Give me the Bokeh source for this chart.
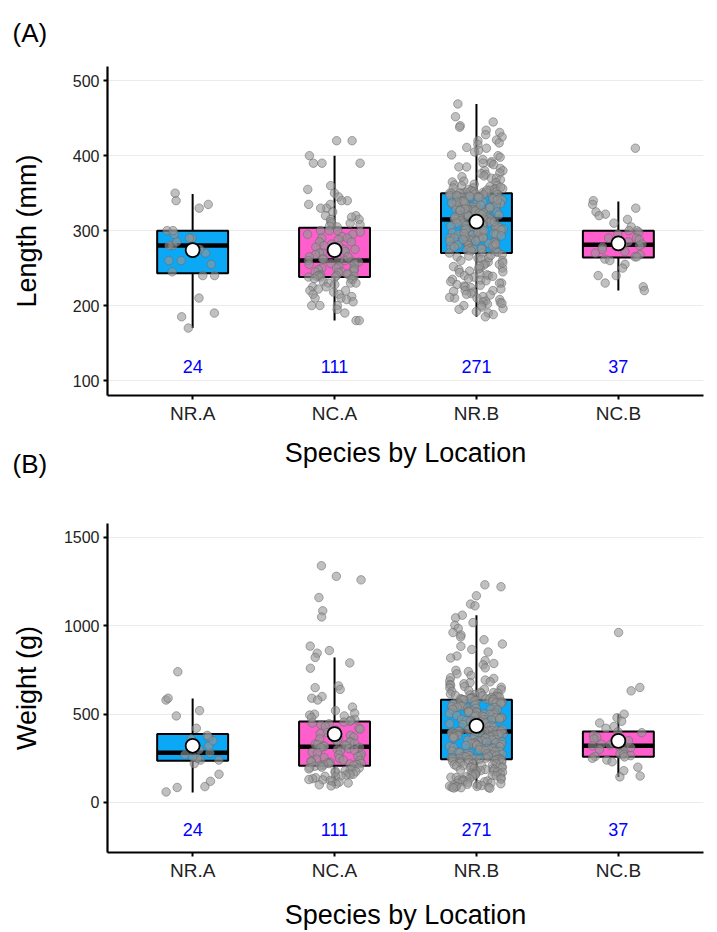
import math

from bokeh.plotting import figure
from bokeh.layouts import column
from bokeh.models import FixedTicker, Range1d, Title
from bokeh.embed import file_html
from bokeh.resources import INLINE
from bokeh.core.properties import value

# ---- categories -------------------------------------------------------------
groups = ["NR.A", "NC.A", "NR.B", "NC.B"]
box_colors = ["#0AA8F5", "#FF5FCC", "#0AA8F5", "#FF5FCC"]

# ---- fish length (mm) by group ---------------------------------------------
length_nr_a = [170, 185, 190, 210, 240, 240, 245, 255, 260, 260, 270, 275,
               280, 280, 285, 290, 290, 295, 300, 300, 330, 335, 340, 350]
length_nc_a = [420, 420, 400, 390, 390, 390, 360, 355, 350, 345, 340, 340,
               335, 335, 330, 330, 325, 320, 320, 318, 315, 315, 312, 310,
               310, 308, 306, 305,
               300, 300, 300, 298, 295, 295, 292, 290, 290, 288, 285, 285,
               282, 280, 280, 278, 275, 275, 272, 270, 270, 268, 265, 265,
               262, 262, 261,
               260, 260, 259, 258, 256, 255, 255, 252, 250, 250, 250, 248,
               248, 246, 245, 245, 244, 242, 242, 241, 240, 240, 240, 239,
               239, 238, 238, 238,
               236, 235, 235, 232, 230, 230, 230, 228, 225, 225, 222, 220,
               220, 218, 215, 215, 212, 210, 210, 208, 205, 200, 200, 200,
               195, 190, 180, 180]
length_nr_b = [469, 452, 445, 440, 438, 434, 431, 428, 425, 421, 420, 417,
               415, 411, 410, 407, 405, 401, 400, 398, 395, 392, 390, 390,
               388, 385, 385, 383, 380, 380, 377, 376, 375, 373, 372, 370,
               370, 368, 366, 365, 364, 362, 361, 360, 360, 359, 357, 357,
               356, 355, 355, 354, 353, 353, 352, 351, 351, 351, 350, 350,
               350, 350, 350, 351, 352, 354, 356, 358,
               349, 348, 348, 347, 346, 345, 345, 344, 343, 342, 341, 340,
               340, 339, 338, 337, 336, 335, 335, 334, 333, 332, 331, 330,
               330, 329, 328, 327, 326, 325, 325, 324, 323, 322, 321, 320,
               320, 319, 318, 317, 316, 316, 315, 315, 315, 347, 343, 338,
               333, 328, 323, 318, 344, 336, 326, 321, 341, 331, 346, 339,
               329, 324, 319, 334, 337, 327, 322,
               314, 313, 312, 311, 310, 310, 309, 308, 307, 306, 305, 305,
               304, 303, 302, 301, 300, 300, 299, 298, 297, 296, 295, 295,
               294, 293, 292, 291, 290, 290, 289, 288, 287, 286, 285, 285,
               284, 283, 282, 281, 280, 280, 279, 278, 277, 276, 275, 275,
               274, 273, 272, 271, 270, 270, 312, 306, 298, 292, 286, 278,
               308, 302, 296, 288, 282, 276, 300, 290,
               268, 266, 265, 263, 262, 260, 260, 258, 256, 255, 254, 252,
               250, 250, 248, 246, 245, 244, 242, 240, 240, 238, 236, 235,
               234, 232, 230, 230, 228, 226, 225, 224, 222, 220, 220, 218,
               216, 215, 214, 212, 210, 210, 208, 206, 205, 204, 202, 200,
               200, 198, 196, 195, 192, 190, 188, 185, 264, 257, 249, 241,
               233, 227, 219, 211, 203, 267, 253, 239]
length_nc_b = [410, 340, 335, 330, 325, 322, 320, 315, 310, 305, 300, 300,
               298, 295, 290, 290, 288, 285, 282, 280, 280, 278, 275, 272,
               270, 268, 265, 265, 262, 260, 255, 250, 240, 240, 230, 225, 220]

# box statistics for length: lower whisker, Q1, median, Q3, upper whisker, mean
length_lower = [170, 180, 185, 220]
length_q1 = [243, 238, 270, 264]
length_median = [280, 260, 315, 281]
length_q3 = [300, 304, 350, 300]
length_upper = [349, 400, 469, 339]
length_mean = [274, 274, 312, 283]

# ---- fish weight (g) by group ----------------------------------------------
weight_nr_a = [60, 85, 90, 120, 160, 220, 240, 240, 250, 260, 270, 280,
               300, 320, 350, 360, 370, 380, 420, 490, 520, 580, 590, 740]
weight_nc_a = [1340, 1280, 1260, 1160, 1085, 1050, 885, 860, 845,
               821, 790, 760, 660, 650, 640, 600, 590, 580, 540, 520, 505,
               500, 495, 490, 480, 470, 465, 460,
               455, 450, 445, 440, 430, 420, 415, 410, 400, 395, 390, 385,
               380, 370, 365, 360, 355, 350, 345, 340, 335, 330, 328, 325,
               322, 320, 318,
               312, 310, 305, 300, 295, 290, 285, 280, 275, 270, 265, 260,
               255, 250, 245, 240, 238, 235, 230, 228, 225, 222, 220, 218,
               215, 212, 210, 209,
               205, 200, 198, 195, 190, 185, 180, 178, 175, 170, 165, 160,
               158, 155, 150, 148, 145, 140, 135, 130, 128, 125, 120, 115,
               110, 105, 100, 94]
weight_nr_b = [1232, 1221, 1170, 1123, 1113,
               1060, 1045, 1018, 1003, 985, 962, 948, 937, 921, 897, 884, 866,
               852, 829, 818, 803, 787, 779, 762, 748, 741, 728, 719, 706,
               702, 693, 688, 683, 679, 672, 668, 663, 657, 652, 648, 641,
               638, 633, 629, 624, 622, 619, 617, 614, 611, 609, 606, 604,
               601, 600, 597, 595, 593, 591, 590, 588, 588, 586, 585, 584,
               584, 583, 582,
               580, 577, 576, 572, 569, 568, 564, 562, 559, 557, 556, 551,
               550, 547, 544, 543, 539, 537, 534, 533, 529, 527, 524, 521,
               520, 516, 514, 511, 509, 507, 504, 502, 499, 498, 494, 492,
               489, 486, 485, 481, 479, 478, 474, 471, 469, 467, 463, 461,
               459, 457, 454, 449, 446, 441, 434, 429, 427, 419, 414, 411,
               408, 406, 405, 404, 403, 403, 402,
               400, 398, 394, 393, 389, 387, 384, 383, 379, 378, 374, 371,
               370, 366, 364, 363, 359, 357, 354, 352, 349, 348, 344, 341,
               339, 338, 334, 333, 329, 326, 324, 322, 318, 316, 313, 311,
               309, 306, 304, 302, 299, 298, 294, 291, 289, 288, 284, 283,
               279, 276, 274, 273, 269, 266, 264, 261, 259, 258, 254, 252,
               251, 249, 248, 247, 246, 246, 245, 245,
               243, 241, 238, 236, 232, 231, 227, 225, 223, 219, 218, 214,
               213, 209, 208, 206, 202, 201, 197, 196, 193, 191, 187, 186,
               183, 180, 178, 176, 173, 171, 167, 166, 163, 161, 158, 156,
               153, 151, 148, 145, 143, 141, 139, 134, 132, 131, 127, 125,
               122, 119, 117, 115, 111, 109, 106, 103, 101, 98, 96, 93,
               91, 90, 88, 86, 85, 84, 82, 81]
weight_nc_b = [962, 651, 632, 500, 480, 460, 450, 430, 420, 400, 395, 380,
               370, 360, 350, 340, 330, 325, 321, 320, 315, 310, 300, 290,
               280, 275, 270, 265, 260, 258, 250, 240, 230, 200, 180, 150, 145]

weight_lower = [57, 94, 81, 145]
weight_q1 = [236, 208, 245, 259]
weight_median = [281, 315, 402, 321]
weight_q3 = [387, 458, 581, 402]
weight_upper = [589, 821, 1060, 500]
weight_mean = [321, 387, 434, 349]

length_values = [length_nr_a, length_nc_a, length_nr_b, length_nc_b]
weight_values = [weight_nr_a, weight_nc_a, weight_nr_b, weight_nc_b]

FONT = "Liberation Sans"
BOX_W = 0.5
JITTER = 0.19


def jitter_offsets(n, seed):
    # deterministic hash-based horizontal spread for the raw observations
    out = []
    for i in range(n):
        h = math.sin((i + 1) * 12.9898 + seed * 78.233) * 43758.5453
        out.append((h - math.floor(h) - 0.5) * 2 * JITTER)
    return out


def make_panel(values, lower, q1, med, q3, upper, mean, y_range, ticks,
               y_label, n_label_y, height, border_top, border_bottom,
               y_label_standoff, x_label_standoff, seed):
    xs = list(range(1, len(groups) + 1))
    p = figure(width=717, height=height, output_backend="svg",
               toolbar_location=None,
               x_range=Range1d(0.4, 4.6), y_range=Range1d(*y_range),
               min_border_left=107, min_border_right=14,
               min_border_top=border_top, min_border_bottom=border_bottom)
    p.outline_line_color = None
    p.background_fill_color = "white"
    p.xgrid.visible = False
    p.ygrid.grid_line_color = "#EBEBEB"
    p.ygrid.grid_line_width = 1

    # axes
    p.xaxis.ticker = FixedTicker(ticks=xs)
    p.xaxis.major_label_overrides = {x: g for x, g in zip(xs, groups)}
    p.yaxis.ticker = FixedTicker(ticks=ticks)
    for ax in (p.xaxis[0], p.yaxis[0]):
        ax.axis_line_color = "black"
        ax.axis_line_width = 2.2
        ax.major_tick_line_color = "black"
        ax.major_tick_line_width = 2
        ax.major_tick_in = 0
        ax.major_tick_out = 4
        ax.minor_tick_line_color = None
        ax.major_label_text_font = FONT
        ax.major_label_text_color = "#222222"
        ax.axis_label_text_font = FONT
        ax.axis_label_text_font_style = "normal"
        ax.axis_label_text_font_size = "27px"
        ax.axis_label_text_color = "black"
    p.xaxis.major_label_text_font_size = "19px"
    p.yaxis.major_label_text_font_size = "16px"
    p.xaxis.major_label_standoff = 3
    p.yaxis.major_label_standoff = 4
    p.xaxis.axis_label = "Species by Location"
    p.xaxis.axis_label_standoff = x_label_standoff
    p.yaxis.axis_label = y_label
    p.yaxis.axis_label_standoff = y_label_standoff

    # whiskers
    p.segment(x0=xs, y0=q3, x1=xs, y1=upper, line_color="black", line_width=2)
    p.segment(x0=xs, y0=q1, x1=xs, y1=lower, line_color="black", line_width=2)
    # boxes
    p.vbar(x=xs, width=BOX_W, bottom=q1, top=q3, fill_color=box_colors,
           line_color="black", line_width=2)
    # medians
    p.segment(x0=[x - BOX_W / 2 for x in xs], y0=med,
              x1=[x + BOX_W / 2 for x in xs], y1=med,
              line_color="black", line_width=4.5)

    # raw observations
    for gi, vals in enumerate(values):
        offs = jitter_offsets(len(vals), seed + gi)
        p.scatter(x=[xs[gi] + o for o in offs], y=vals, size=8.5,
                  fill_color="#969696", fill_alpha=0.6,
                  line_color="#6A6A6A", line_alpha=0.55, line_width=1)

    # group means
    p.scatter(x=xs, y=mean, size=14, fill_color="white",
              line_color="black", line_width=1.8)

    # sample sizes
    p.text(x=xs, y=[n_label_y] * len(xs),
           text=[str(len(v)) for v in values],
           text_color="#0000FF", text_font=value(FONT),
           text_font_size="18px", text_align="center",
           text_baseline="middle")
    return p


p_a = make_panel(length_values, length_lower, length_q1, length_median,
                 length_q3, length_upper, length_mean,
                 (80, 519), [100, 200, 300, 400, 500], "Length (mm)", 119,
                 484, 66, 89, 28, 11, 3)
p_b = make_panel(weight_values, weight_lower, weight_q1, weight_median,
                 weight_q3, weight_upper, weight_mean,
                 (-283, 1579), [0, 500, 1000, 1500], "Weight (g)", -151,
                 448, 39, 80, 19, 16, 11)

# panel tags
p_a.add_layout(Title(text="(A)", align="left", offset=-95, standoff=33,
                     vertical_align="top",
                     text_font=FONT, text_font_size="26px",
                     text_font_style="normal", text_color="black"), "above")
p_a.add_layout(Title(text="(B)", align="left", offset=-95, standoff=-43,
                     vertical_align="top",
                     text_font=FONT, text_font_size="26px",
                     text_font_style="normal", text_color="black"), "below")

layout = column(p_a, p_b)
open("out.html", "w").write(file_html(layout, INLINE))
